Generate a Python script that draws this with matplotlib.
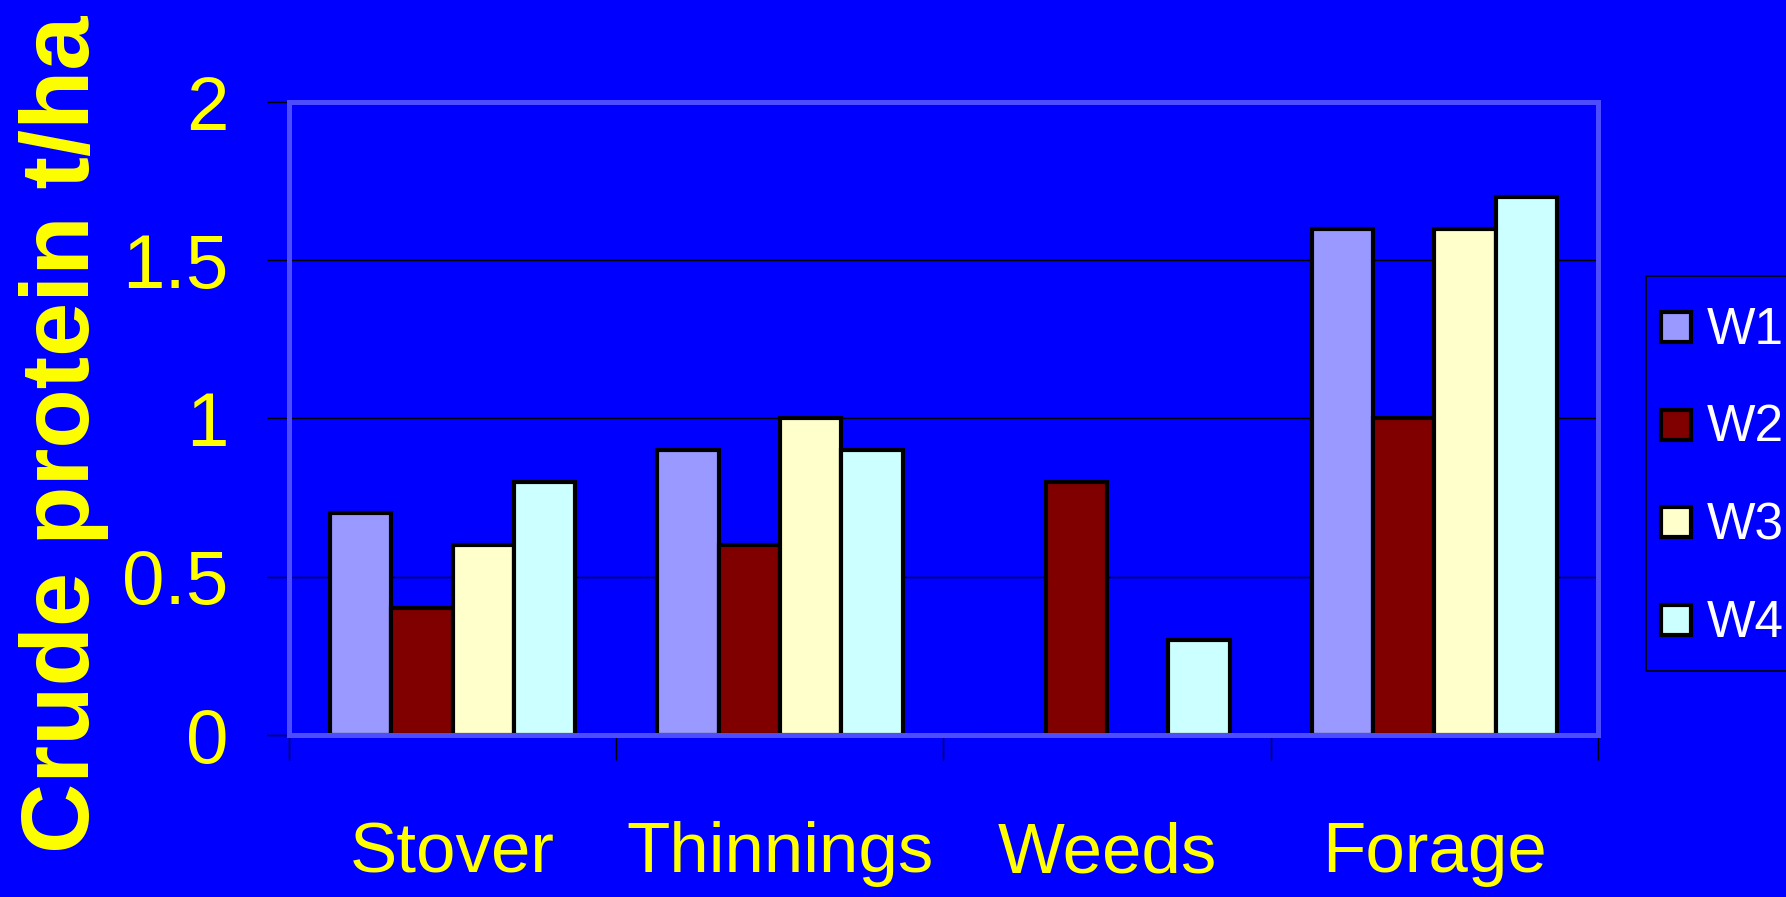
import matplotlib
matplotlib.use("Agg")
import matplotlib.pyplot as plt
from matplotlib.patches import Rectangle
from matplotlib.legend_handler import HandlerPatch
from matplotlib.container import BarContainer
import numpy as np

categories = ["Stover", "Thinnings", "Weeds", "Forage"]
series_names = ["W1", "W2", "W3", "W4"]
W1 = [0.7, 0.9, 0.0, 1.6]
W2 = [0.4, 0.6, 0.8, 1.0]
W3 = [0.6, 1.0, 0.0, 1.6]
W4 = [0.8, 0.9, 0.3, 1.7]
y_ticks = [0, 0.5, 1, 1.5, 2]
y_tick_labels = ["0", "0.5", "1", "1.5", "2"]
ylabel = "Crude protein t/ha"

colors = ["#9999FF", "#800000", "#FFFFCC", "#CCFFFF"]
BG = "#0000FF"
YEL = "#FFFF00"
fam = ["Liberation Sans", "DejaVu Sans"]

W, H = 1786, 897
fig = plt.figure(figsize=(W / 100, H / 100), dpi=100, facecolor=BG)
ax = fig.add_axes([289 / W, 1 - 735 / H, 1309 / W, 633 / H])
ax.set_facecolor(BG)

x = np.arange(len(categories))
bw = 0.1875
data = [W1, W2, W3, W4]
for j, (vals, c, name) in enumerate(zip(data, colors, series_names)):
    ax.bar(x + (j - 1.5) * bw, vals, width=bw, color=c, edgecolor="black",
           linewidth=3, label=name, zorder=3)

ax.set_xlim(-0.5, len(categories) - 0.5)
ax.set_ylim(0, 2)
ax.set_yticks(y_ticks)
ax.set_yticklabels(y_tick_labels, family=fam, fontsize=55, color=YEL)
ax.tick_params(axis="y", length=16, width=1, color="black", pad=27.5)
ax.yaxis.grid(True, color="black", linewidth=1, zorder=0)
ax.set_axisbelow(True)

ax.set_xticks(x)
ax.set_xticklabels(categories, family=fam, fontsize=51, color=YEL)
ax.tick_params(axis="x", length=0, pad=62)
ax.set_xticks(np.arange(len(categories) + 1) - 0.5, minor=True)
ax.tick_params(axis="x", which="minor", length=18, width=1, color="black")

for s in ["top", "right", "bottom"]:
    ax.spines[s].set_visible(False)
ax.spines["left"].set_color("black")
ax.spines["left"].set_linewidth(1)
ax.add_patch(Rectangle((0, 0), 1, 1, transform=ax.transAxes, fill=False,
                       edgecolor="#4D4DFF", linewidth=3.6, clip_on=False, zorder=4))

ax.set_ylabel(ylabel, fontsize=70, fontweight="bold", color=YEL, family=fam)
ax.yaxis.set_label_coords(-0.1375, 0.4755)

LFS = 37
SQ = 21.6  # square size in points


def square(legend, orig_handle, xdescent, ydescent, width, height, fontsize):
    return Rectangle((-xdescent, -ydescent + (height - SQ) / 2), SQ, SQ)


def first_child(legend_handle, orig_handle):
    legend_handle.update_from(orig_handle[0])


handles, labels = ax.get_legend_handles_labels()
leg = fig.legend(handles, labels, loc="upper left",
                 bbox_to_anchor=(1646 / W, 1 - 276 / H),
                 prop={"family": fam, "size": LFS}, frameon=True,
                 facecolor=BG, edgecolor="black", framealpha=1, fancybox=False,
                 handlelength=SQ / LFS, handleheight=1.75, handletextpad=0.3,
                 borderpad=0.3, labelspacing=0.52, borderaxespad=0,
                 handler_map={BarContainer: HandlerPatch(patch_func=square,
                                                         update_func=first_child)})
leg.get_frame().set_linewidth(1.2)
for t in leg.get_texts():
    t.set_color("white")

fig.savefig("out.png", dpi=100, facecolor=BG)
